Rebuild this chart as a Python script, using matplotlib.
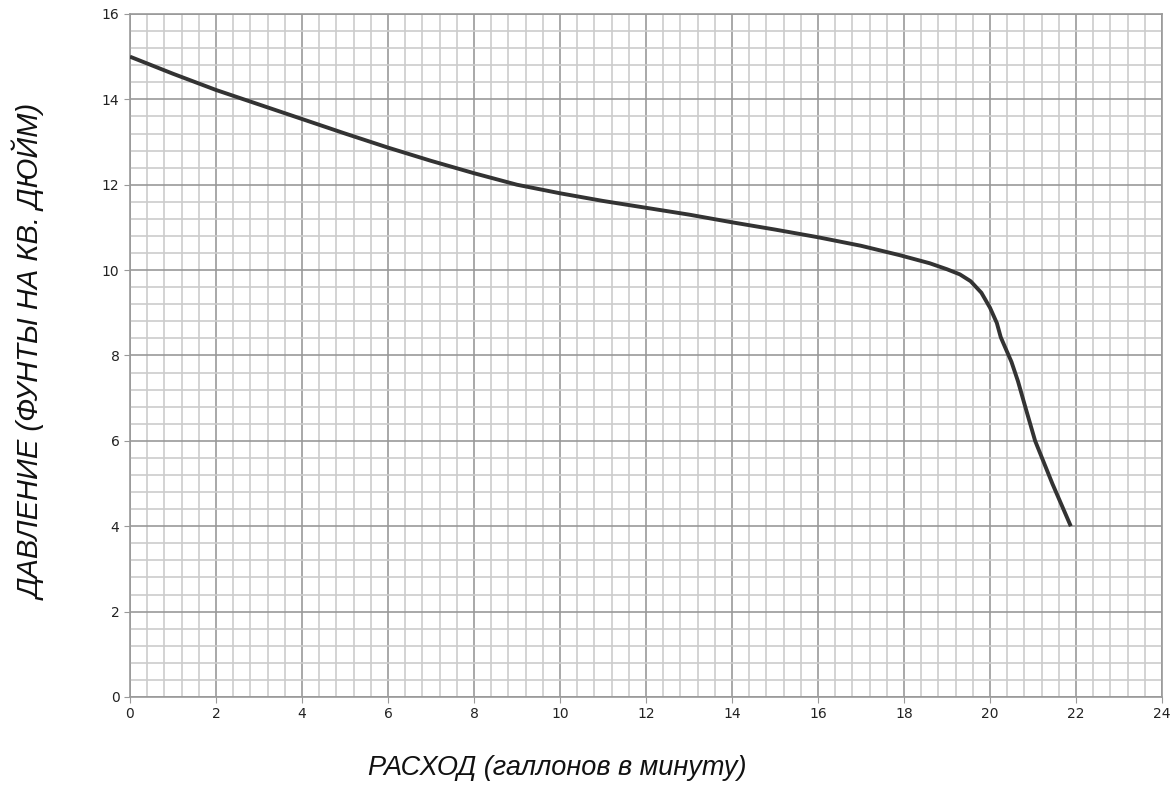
import numpy as np
import matplotlib.pyplot as plt
from matplotlib.ticker import MultipleLocator

# flow (gpm) vs pressure (psi)
flow = [0, 1, 2, 3, 4, 5, 6, 7, 8, 9, 10, 11, 12, 13, 14, 15, 16, 17, 17.9,
        18.6, 19.0, 19.3, 19.55, 19.8, 20.0, 20.16, 20.25, 20.37, 20.5, 20.65,
        20.82, 21.05, 21.45, 21.88]
pressure = [15.0, 14.6, 14.22, 13.88, 13.54, 13.2, 12.87, 12.56, 12.27, 12.0,
            11.8, 11.62, 11.46, 11.3, 11.12, 10.95, 10.77, 10.57, 10.35,
            10.16, 10.02, 9.9, 9.74, 9.47, 9.12, 8.76, 8.43, 8.15, 7.85, 7.4,
            6.8, 6.0, 5.0, 4.0]

xticks = np.arange(0, 25, 2)
yticks = np.arange(0, 17, 2)

fig = plt.figure(figsize=(11.73, 8.08), dpi=100)
ax = fig.add_axes([0.1108, 0.1374, 0.8798, 0.8453])

ax.plot(flow, pressure, color='#333333', lw=2.8, solid_capstyle='butt', zorder=3)

ax.set_xlim(0, 24)
ax.set_ylim(0, 16)
ax.set_xticks(xticks)
ax.set_yticks(yticks)
ax.xaxis.set_minor_locator(MultipleLocator(0.4))
ax.yaxis.set_minor_locator(MultipleLocator(0.4))
ax.grid(which='major', color='#999999', lw=1.2)
ax.grid(which='minor', color='#cccccc', lw=1.2)
ax.set_axisbelow(True)
ax.tick_params(which='major', length=4, color='#999999', labelsize=10, colors='#222222')
ax.tick_params(which='minor', length=0)
for s in ax.spines.values():
    s.set_color('#999999')
    s.set_linewidth(1.2)

lab = dict(family=['Liberation Sans Narrow', 'Liberation Sans', 'DejaVu Sans'],
           style='italic', color='#111111')
fig.text(0.475, 0.05, 'РАСХОД (галлонов в минуту)', ha='center', va='center',
         fontsize=19.5, **lab)
fig.text(0.0256, 0.564, 'ДАВЛЕНИЕ (ФУНТЫ НА КВ. ДЮЙМ)', ha='center', va='center',
         rotation=90, fontsize=21, **lab)

fig.savefig('out.png', dpi=100)
